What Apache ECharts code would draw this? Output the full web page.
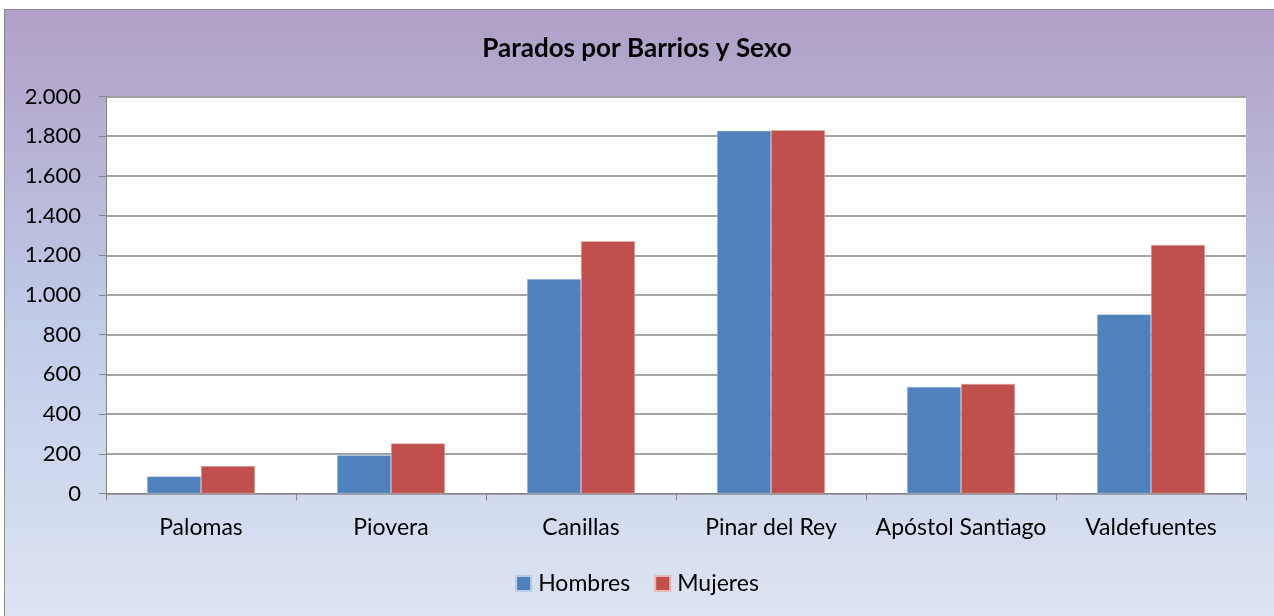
<!DOCTYPE html>
<html>
<head>
<meta charset="utf-8">
<script src="https://cdn.jsdelivr.net/npm/echarts@6/dist/echarts.min.js"></script>
<style>
html,body{margin:0;padding:0;background:#ffffff;}
#c{width:1274px;height:616px;}
</style>
</head>
<body>
<div id="c"></div>
<script>
const categories = ['Palomas', 'Piovera', 'Canillas', 'Pinar del Rey', 'Apóstol Santiago', 'Valdefuentes'];
const hombres = [86, 193, 1080, 1827, 537, 902];
const mujeres = [138, 252, 1271, 1830, 552, 1252];
const seriesNames = ['Hombres', 'Mujeres'];
const yTicks = {min: 0, max: 2000, interval: 200};
const titleText = 'Parados por Barrios y Sexo';

const FONT = 'Lato';
const chart = echarts.init(document.getElementById('c'));
function fmt(v){ return String(v).replace(/\B(?=(\d{3})+(?!\d))/g, '.'); }
chart.setOption({
  animation: false,
  backgroundColor: '#ffffff',
  graphic: [{
    type: 'rect', z: -10, silent: true,
    shape: {x: 4.5, y: 9.5, width: 1290, height: 620},
    style: {
      fill: new echarts.graphic.LinearGradient(0, 0, 0, 1, [
        {offset: 0, color: '#b09fc6'},
        {offset: 0.5, color: '#c0cbe8'},
        {offset: 1, color: '#dee5f3'}
      ]),
      stroke: '#8a8a8a', lineWidth: 1
    }
  }],
  title: {
    text: titleText, left: 'center', top: 31,
    textStyle: {fontFamily: FONT, fontWeight: 'bold', fontSize: 26, color: '#000'}
  },
  legend: {
    data: seriesNames, left: 'center', top: 567, itemWidth: 15, itemHeight: 15, itemGap: 24,
    icon: 'rect',
    textStyle: {fontFamily: FONT, fontSize: 23, color: '#000', padding: [0, 0, 0, 2]}
  },
  grid: {left: 106, right: 28, top: 96.5, bottom: 122.5, containLabel: false,
    show: true, backgroundColor: '#ffffff', borderWidth: 0},
  xAxis: {
    type: 'category', data: categories,
    axisLine: {lineStyle: {color: '#868686', width: 1}},
    axisTick: {show: true, length: 7, alignWithLabel: false, lineStyle: {color: '#868686'}},
    axisLabel: {interval: 0, fontFamily: FONT, fontSize: 23, color: '#000', margin: 23}
  },
  yAxis: {
    type: 'value', min: yTicks.min, max: yTicks.max, interval: yTicks.interval,
    axisLine: {show: true, lineStyle: {color: '#868686', width: 1}},
    axisTick: {show: true, length: 7, lineStyle: {color: '#868686'}},
    splitLine: {lineStyle: {color: '#878787', width: 1.5}},
    axisLabel: {fontFamily: FONT, fontSize: 22, color: '#000', margin: 25, formatter: fmt}
  },
  series: [
    {name: seriesNames[0], type: 'bar', data: hombres, barWidth: '28.4%', barGap: '0%',
      itemStyle: {color: '#4f81bd', borderColor: '#b9cde5', borderWidth: 0.5}},
    {name: seriesNames[1], type: 'bar', data: mujeres, barWidth: '28.4%', barGap: '0%',
      itemStyle: {color: '#c0504d', borderColor: '#e6b9b8', borderWidth: 0.5}}
  ]
});
</script>
</body>
</html>
